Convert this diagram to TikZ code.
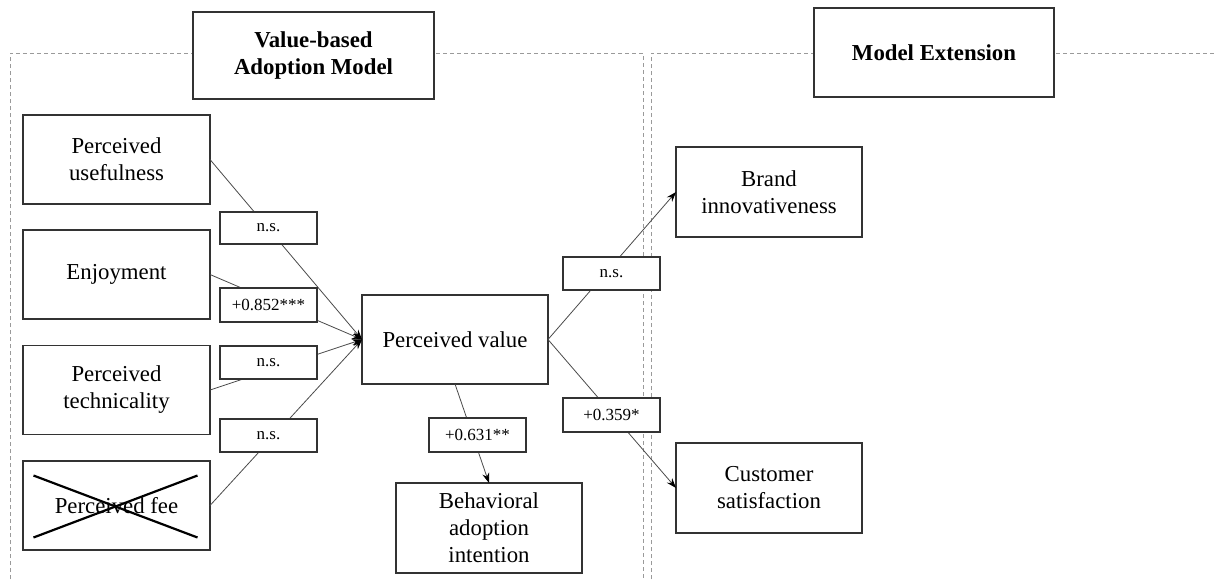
\documentclass[tikz,border=0pt]{standalone}
\usepackage{fontspec}
\setmainfont{Liberation Serif}
\usetikzlibrary{arrows.meta,calc}

\definecolor{boxline}{HTML}{333333}
\definecolor{linkline}{HTML}{4A4A4A}
\definecolor{frameline}{HTML}{9A9A9A}

\tikzset{
  construct/.style={draw=boxline, line width=1.6pt, fill=white, inner sep=0pt, outer sep=0pt,
    minimum width=187pt, minimum height=89pt, align=center,
    font=\fontsize{22.8}{27}\selectfont},
  titlebox/.style={draw=boxline, line width=1.8pt, fill=white, inner sep=0pt, outer sep=0pt,
    minimum width=240pt, minimum height=88pt, align=center,
    font=\fontsize{22.8}{27}\selectfont\bfseries},
  coef/.style={draw=boxline, line width=1.3pt, fill=white, inner sep=0pt,
    minimum width=97pt, minimum height=33pt,
    font=\fontsize{17}{20}\selectfont},
  link/.style={draw=linkline, line width=0.8pt},
  arrowlink/.style={link, -{Stealth[length=10pt,width=7pt,black]}},
  frame/.style={draw=frameline, line width=0.9pt, dash pattern=on 4pt off 3pt},
}

\begin{document}
\begin{tikzpicture}[x=1pt, y=-1pt]
\useasboundingbox (0,0) rectangle (1214,579);

% dashed section frames
\draw[frame] (10,579) -- (10,53) -- (643,53) -- (643,579);
\draw[frame] (651,579) -- (651,53) -- (1214,53);

% section titles
\node[titlebox, minimum width=241pt, minimum height=87pt] (ttlvam) at (313.5,55.5) {Value-based\\Adoption Model};
\node[titlebox, minimum height=89pt] (ttlext) at (934,52.5) {Model Extension};

% constructs
\node[construct] (pu)   at (116.5,159.5) {Perceived\\usefulness};
\node[construct] (enj)  at (116.5,274.5) {Enjoyment};
\node[construct] (tech) at (116.5,390)   {Perceived\\technicality};
\node[construct] (fee)  at (116.5,505.5) {Perceived fee};
\node[construct, minimum width=186pt] (pv) at (455,339.5) {Perceived value};
\node[construct, minimum width=186pt, minimum height=90pt] (bai) at (489,528) {Behavioral\\adoption\\intention};
\node[construct, minimum width=186pt, minimum height=90pt] (brand) at (769,192) {Brand\\innovativeness};
\node[construct, minimum width=186pt, minimum height=90pt] (cs) at (769,488) {Customer\\satisfaction};

% crossed-out construct
\draw[black, line width=2.2pt] ($(fee.center)+(-83,-30)$) -- ($(fee.center)+(81,32)$);
\draw[black, line width=2.2pt] ($(fee.center)+(-83,32)$) -- ($(fee.center)+(81,-30)$);

% paths
\draw[arrowlink] (pu.east)   -- (pv.west);
\draw[arrowlink] (enj.east)  -- (pv.west);
\draw[arrowlink] (tech.east) -- (pv.west);
\draw[arrowlink] (fee.east)  -- (pv.west);
\draw[arrowlink] (pv.south)  -- (bai.north);
\draw[arrowlink] (pv.east)   -- (brand.west);
\draw[arrowlink] (pv.east)   -- (cs.west);

% path coefficients
\node[coef, minimum height=32pt] (cpu)   at (268.5,228)   {n.s.};
\node[coef, minimum height=34pt] (cenj)  at (268.5,305)   {+0.852***};
\node[coef]                      (ctech) at (268.5,362.5) {n.s.};
\node[coef]                      (cfee)  at (268.5,435.5) {n.s.};
\node[coef, minimum height=34pt] (cbai)  at (477.5,435)   {+0.631**};
\node[coef]                      (cbr)   at (611.5,273.5) {n.s.};
\node[coef, minimum height=34pt] (ccs)   at (611.5,415)   {+0.359*};
\end{tikzpicture}
\end{document}
